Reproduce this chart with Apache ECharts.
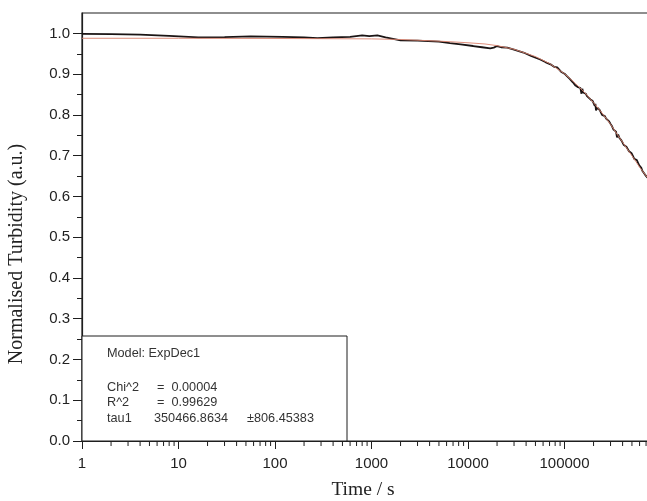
<!DOCTYPE html>
<html>
<head>
<meta charset="utf-8">
<script src="https://cdn.jsdelivr.net/npm/echarts@6/dist/echarts.min.js"></script>
<style>
  html, body { margin: 0; padding: 0; background: #ffffff; overflow: hidden; width: 647px; height: 501px; }
  #chart { width: 690px; height: 501px; }
</style>
</head>
<body>
<div id="chart"></div>
<script>
// Measured turbidity decay (time in seconds, normalised turbidity)
const measuredTime = [1, 2, 4, 8, 16, 30, 56, 120, 200, 275, 400, 600, 800, 950, 1150, 1400, 2000, 3000, 5000, 6500,
  8400, 11300, 14000, 17000, 18500, 20000, 22000, 25500, 30000, 37600, 45000, 56000, 64000, 71600, 78000, 84000,
  92000, 100000, 106000, 110000, 114000, 118000, 122000, 126000, 130000, 134000, 138000, 146000, 150000, 153000,
  156000, 161000, 166000, 171000, 176000, 186000, 191000, 196000, 206000, 209000, 212000, 219000, 226000, 232000,
  245000, 252000, 262000, 270000, 279000, 290000, 300000, 311000, 322000, 332000, 342000, 350000, 360000, 370000,
  379000, 390000, 400000, 412000, 425000, 438000, 452000, 466000, 480000, 495000, 510000, 528000, 545000, 562000,
  580000, 595000, 609000, 625000, 640000, 655000, 670000, 685000, 700000, 712000, 724000];
const measuredValue = [0.999, 0.998, 0.997, 0.994, 0.990, 0.991, 0.9925, 0.9915, 0.990, 0.9885, 0.990, 0.9915, 0.995, 0.9935, 0.995, 0.990, 0.983, 0.982, 0.980, 0.976,
  0.973, 0.969, 0.966, 0.963, 0.965, 0.969, 0.966, 0.965, 0.960, 0.953, 0.945, 0.936, 0.929, 0.924, 0.918, 0.9165,
  0.906, 0.901, 0.895, 0.893, 0.888, 0.884, 0.880, 0.879, 0.872, 0.873, 0.868, 0.866, 0.852, 0.864,
  0.855, 0.857, 0.852, 0.846, 0.845, 0.838, 0.840, 0.834, 0.822, 0.827, 0.811, 0.818, 0.815, 0.812,
  0.800, 0.804, 0.797, 0.791, 0.789, 0.784, 0.778, 0.772, 0.764, 0.766, 0.759, 0.745, 0.752, 0.744,
  0.740, 0.737, 0.733, 0.726, 0.724, 0.722, 0.719, 0.711, 0.708, 0.706, 0.700, 0.692, 0.688, 0.689,
  0.682, 0.676, 0.673, 0.670, 0.663, 0.664, 0.659, 0.653, 0.652, 0.650, 0.646];

// ExpDec1 fit curve
const fitTime = [1, 10, 100, 1000, 2000, 5000, 10000, 15000, 20000, 30000, 40000, 50000, 70000, 100000, 130000,
  160000, 200000, 250000, 300000, 350000, 400000, 500000, 600000, 724000];
const fitValue = [0.988, 0.988, 0.9875, 0.9865, 0.985, 0.981, 0.977, 0.974, 0.970, 0.961, 0.951, 0.943, 0.926, 0.901, 0.877,
  0.856, 0.830, 0.802, 0.777, 0.753, 0.733, 0.700, 0.672, 0.646];

// Axis ticks
const xMajorTicks = [1, 10, 100, 1000, 10000, 100000, 1000000];
const xLabelTicks = [1, 10, 100, 1000, 10000, 100000];
const yTicks = [0, 0.1, 0.2, 0.3, 0.4, 0.5, 0.6, 0.7, 0.8, 0.9, 1.0];

// Fit report text
const fitModel = 'Model: ExpDec1';
const fitRows = [
  ['Chi^2', '=  0.00004', ''],
  ['R^2', '=  0.99629', ''],
  ['tau1', '350466.8634', '±806.45383']
];

// Minor tick positions on the log axis (2..9 within each decade)
const xMinorTicks = [];
for (let d = 1; d < 1000000; d *= 10) {
  for (let m = 2; m <= 9; m++) xMinorTicks.push(d * m);
}

const sans = '"Liberation Sans", Arial, sans-serif';
const serif = '"Liberation Serif", "Times New Roman", serif';
const ink = '#1e1e1e';

const chart = echarts.init(document.getElementById('chart'), null, { renderer: 'canvas' });

const rowY = [387, 402, 418];
const graphics = [
  {
    type: 'rect', z: 5,
    shape: { x: 82, y: 336, width: 265, height: 105 },
    style: { fill: '#ffffff', stroke: ink, lineWidth: 1 }
  },
  {
    type: 'text', z: 6, x: 107, y: 353,
    style: { text: fitModel, font: '12.7px ' + sans, fill: '#333', textVerticalAlign: 'middle' }
  },
  {
    type: 'text', z: 6, x: 17, y: 254, rotation: Math.PI / 2,
    style: { text: 'Normalised Turbidity (a.u.)', font: '20px ' + serif, fill: '#222',
      textAlign: 'center', textVerticalAlign: 'middle' }
  },
  {
    type: 'text', z: 6, x: 363, y: 490,
    style: { text: 'Time / s', font: '19.5px ' + serif, fill: '#222',
      textAlign: 'center', textVerticalAlign: 'middle' }
  }
];
fitRows.forEach((r, i) => {
  const y = rowY[i];
  graphics.push({ type: 'text', z: 6, x: 107, y: y,
    style: { text: r[0], font: '12.7px ' + sans, fill: '#333', textVerticalAlign: 'middle' } });
  graphics.push({ type: 'text', z: 6, x: i < 2 ? 157 : 154, y: y,
    style: { text: r[1], font: '12.7px ' + sans, fill: '#333', textVerticalAlign: 'middle' } });
  if (r[2]) {
    graphics.push({ type: 'text', z: 6, x: 247, y: y,
      style: { text: r[2], font: '12.7px ' + sans, fill: '#333', textVerticalAlign: 'middle' } });
  }
});

const option = {
  backgroundColor: '#ffffff',
  animation: false,
  grid: {
    left: 82, top: 13, width: 579, height: 428,
    show: true, borderColor: ink, borderWidth: 1.2, backgroundColor: 'transparent'
  },
  xAxis: {
    type: 'log', logBase: 10, min: 1, max: 1000000,
    axisLine: { show: true, lineStyle: { color: ink, width: 1.2 } },
    axisTick: { show: true, inside: false, length: 8, lineStyle: { color: ink, width: 1 },
      customValues: xMajorTicks },
    minorTick: { show: false },
    splitLine: { show: false },
    axisLabel: { customValues: xLabelTicks, margin: 15, fontSize: 15, fontFamily: sans, color: '#222',
      formatter: v => String(Math.round(v)) }
  },
  yAxis: {
    type: 'value', min: 0, max: 1.05, interval: 0.1,
    axisLine: { show: true, lineStyle: { color: ink, width: 1.2 } },
    axisTick: { show: true, inside: false, length: 9, lineStyle: { color: ink, width: 1 },
      customValues: yTicks },
    minorTick: { show: true, splitNumber: 2, length: 5, lineStyle: { color: ink, width: 1 } },
    splitLine: { show: false },
    axisLabel: { customValues: yTicks, margin: 12, fontSize: 15, fontFamily: sans, color: '#222',
      formatter: v => v.toFixed(1) }
  },
  graphic: graphics,
  series: [
    {
      name: 'measured', type: 'line', showSymbol: false, symbol: 'none',
      data: measuredTime.map((t, i) => [t, measuredValue[i]]),
      lineStyle: { color: '#1a1414', width: 1.8 }, z: 3
    },
    {
      name: 'ExpDec1 fit', type: 'line', showSymbol: false, symbol: 'none',
      data: fitTime.map((t, i) => [t, fitValue[i]]),
      lineStyle: { color: '#d9806c', width: 0.9 }, z: 4
    },
    {
      name: 'minor ticks', type: 'custom', silent: true, clip: false, z: 6,
      data: xMinorTicks.map(v => [v, 0]),
      encode: { x: 0, y: 1 },
      renderItem: function (params, api) {
        const p = api.coord([api.value(0), 0]);
        return {
          type: 'line',
          shape: { x1: p[0], y1: p[1], x2: p[0], y2: p[1] + 5 },
          style: { stroke: ink, lineWidth: 1 }
        };
      }
    }
  ]
};
chart.setOption(option);
</script>
</body>
</html>
